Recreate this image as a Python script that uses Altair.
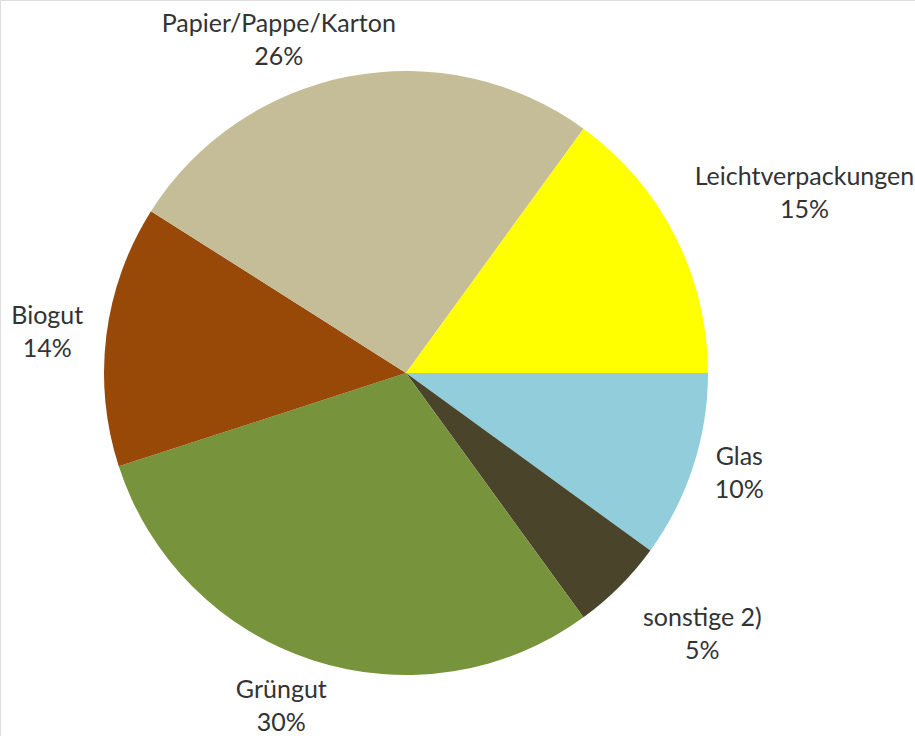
import altair as alt
import pandas as pd

categories = ["Glas", "sonstige 2)", "Grüngut", "Biogut", "Papier/Pappe/Karton", "Leichtverpackungen"]
values = [10, 5, 30, 14, 26, 15]
colors = ["#92CDDC", "#4A452A", "#77933C", "#984807", "#C4BD97", "#FFFF00"]

df = pd.DataFrame({
    "cat": categories,
    "value": values,
    "order": list(range(len(categories))),
})

CX, CY, R = 406, 373, 302
PI = 3.141592653589793
LIMIT = 333  # max vertical distance of label block centre from pie centre
RA = 325     # radius of the label anchor circle
BH = 64      # label block height

base = alt.Chart(df)

arcs = base.mark_arc(radius=R).encode(
    theta=alt.Theta("value:Q", stack=True,
                    scale=alt.Scale(range=[PI / 2, PI / 2 + 2 * PI])),
    color=alt.Color("cat:N", scale=alt.Scale(domain=categories, range=colors), legend=None),
    order=alt.Order("order:Q"),
    x=alt.value(CX),
    y=alt.value(CY),
)

labels = base.transform_joinaggregate(
    total="sum(value)"
).transform_window(
    cum="sum(value)", sort=[alt.SortField("order")], frame=[None, 0]
).transform_calculate(
    a="2*PI*(datum.cum - datum.value/2)/datum.total",
    w="length(datum.cat)*12.1",
    ca="cos(datum.a)",
    sa="sin(datum.a)",
    sx="abs(datum.ca) < 0.35 ? 0 : 1",
    sy="abs(datum.sa) < 0.35 ? 0 : 1",
    cx0=f"{RA}*datum.ca + (datum.ca < 0 ? -1 : 1)*datum.sx*datum.w/2",
    cy0=f"{RA}*datum.sa + (datum.sa < 0 ? -1 : 1)*datum.sy*{BH}/2",
    d="sqrt(datum.cx0*datum.cx0 + datum.cy0*datum.cy0)",
    vy=f"clamp(datum.cy0, -{LIMIT}, {LIMIT})",
    vx="abs(datum.vy) < abs(datum.cy0) ? (datum.cx0 < 0 ? -1 : 1)*sqrt(max(datum.d*datum.d - datum.vy*datum.vy, 0)) : datum.cx0",
    lx=f"{CX} + datum.vx",
    ly=f"{CY} + datum.vy",
    txt="datum.cat + '\\n' + round(datum.value) + '%'",
).mark_text(
    font="Lato", fontSize=25, color="#333333", lineBreak="\n",
    lineHeight=33, align="center", baseline="middle", dy=-16.5,
).encode(
    x=alt.X("lx:Q", scale=None),
    y=alt.Y("ly:Q", scale=None),
    text="txt:N",
)

chart = alt.layer(arcs, labels).properties(
    width=915, height=736, padding=0, autosize=alt.AutoSizeParams(type="none"),
).configure_view(stroke=None).configure(background="white")

chart.save("out.html", embed_options={"renderer": "svg", "actions": False})
